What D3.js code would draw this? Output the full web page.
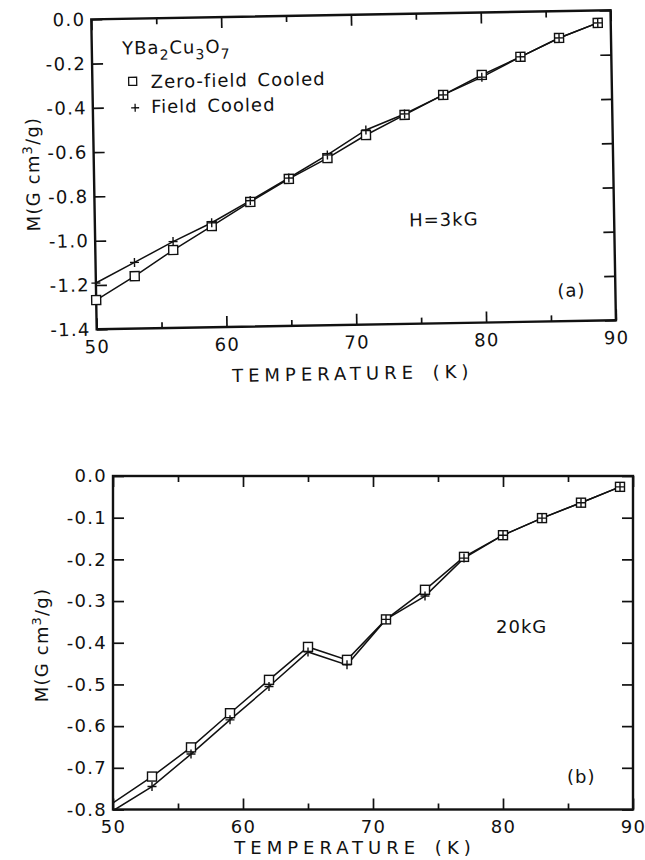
<!DOCTYPE html>
<html>
<head>
<meta charset="utf-8">
<script src="https://cdn.jsdelivr.net/npm/d3@7"></script>
<style>
body { margin: 0; background: #fff; }
text { font-family: "DejaVu Sans", sans-serif; fill: #111; }
.tick text { font-size: 18px; letter-spacing: 1.3px; }
.tick line { stroke: #111; stroke-width: 1.7; }
.lbl { font-size: 18px; letter-spacing: 1px; }
</style>
</head>
<body>
<div id="chart"></div>
<script>
// measurement temperatures (K)
let temps = [50, 53, 56, 59, 62, 65, 68, 71, 74, 77, 80, 83, 86, 89];

// (a) H = 3 kG, M in G cm3/g
let zfcA = [-1.268, -1.163, -1.048, -0.943, -0.837, -0.736, -0.645, -0.544, -0.456, -0.369, -0.282, -0.203, -0.121, -0.056];
let fcA  = [-1.191, -1.101, -1.010, -0.928, -0.831, -0.732, -0.631, -0.521, -0.452, -0.369, -0.292, -0.203, -0.121, -0.056];

// (b) 20 kG
let zfcB = [-0.784, -0.721, -0.651, -0.569, -0.489, -0.410, -0.441, -0.344, -0.273, -0.194, -0.142, -0.101, -0.064, -0.026];
let fcB  = [-0.803, -0.745, -0.667, -0.585, -0.505, -0.422, -0.453, -0.344, -0.288, -0.197, -0.142, -0.101, -0.064, -0.026];

let xMajor = [50, 60, 70, 80, 90];
let xMinor = [55, 65, 75, 85];
let yTicksA = [0, -0.2, -0.4, -0.6, -0.8, -1.0, -1.2, -1.4];
let yLabelsA = ["0.0", "-0.2", "-0.4", "-0.6", "-0.8", "-1.0", "-1.2", "-1.4"];
let yTicksB = [0, -0.1, -0.2, -0.3, -0.4, -0.5, -0.6, -0.7, -0.8];
let yLabelsB = ["0.0", "-0.1", "-0.2", "-0.3", "-0.4", "-0.5", "-0.6", "-0.7", "-0.8"];

let svg = d3.select("#chart").append("svg")
    .attr("width", 645)
    .attr("height", 860);

function drawPanel(g, cfg) {
    let x = d3.scaleLinear().domain([50, 90]).range([cfg.left, cfg.right]);
    let y = d3.scaleLinear().domain([cfg.yTicks[cfg.yTicks.length - 1], 0]).range([cfg.bottom, cfg.top]);

    g.append("clipPath").attr("id", "clip-" + cfg.name)
        .append("rect")
        .attr("x", cfg.left).attr("y", cfg.top)
        .attr("width", cfg.right - cfg.left).attr("height", cfg.bottom - cfg.top);

    // axes, ticks pointing inward
    g.append("g").attr("transform", "translate(0," + cfg.bottom + ")")
        .call(d3.axisBottom(x).tickValues(xMajor).tickSize(-11).tickSizeOuter(0).tickPadding(11).tickFormat(d3.format("d")));
    g.append("g").attr("transform", "translate(0," + cfg.bottom + ")")
        .call(d3.axisBottom(x).tickValues(xMinor).tickSize(-6).tickSizeOuter(0).tickFormat(""));
    g.append("g").attr("transform", "translate(0," + cfg.top + ")")
        .call(d3.axisTop(x).tickValues(xMajor).tickSize(-11).tickSizeOuter(0).tickFormat(""));
    g.append("g").attr("transform", "translate(0," + cfg.top + ")")
        .call(d3.axisTop(x).tickValues(xMinor).tickSize(-6).tickSizeOuter(0).tickFormat(""));
    g.append("g").attr("transform", "translate(" + cfg.left + ",0)")
        .call(d3.axisLeft(y).tickValues(cfg.yTicks).tickSize(-11).tickSizeOuter(0).tickPadding(6)
            .tickFormat((d, i) => cfg.yLabels[i]));
    g.append("g").attr("transform", "translate(" + cfg.right + ",0)")
        .call(d3.axisRight(y).tickValues(cfg.yTicks).tickSize(-11).tickSizeOuter(0).tickFormat(""));
    g.selectAll(".domain").remove();

    g.append("rect")
        .attr("x", cfg.left).attr("y", cfg.top)
        .attr("width", cfg.right - cfg.left).attr("height", cfg.bottom - cfg.top)
        .attr("fill", "none").attr("stroke", "#111").attr("stroke-width", 2.4);

    let line = d3.line().x(d => x(d[0])).y(d => y(d[1]));
    let zfc = temps.map((t, i) => [t, cfg.zfc[i]]);
    let fc = temps.map((t, i) => [t, cfg.fc[i]]);

    let plot = g.append("g").attr("clip-path", "url(#clip-" + cfg.name + ")");
    [zfc, fc].forEach(s => {
        plot.append("path").datum(s)
            .attr("d", line)
            .attr("fill", "none")
            .attr("stroke", "#111")
            .attr("stroke-width", 1.5);
    });

    let zfcPts = cfg.markFirst ? zfc : zfc.slice(1);
    let fcPts = cfg.markFirst ? fc : fc.slice(1);

    g.selectAll(".sq-" + cfg.name)
        .data(zfcPts)
        .enter().append("rect")
        .attr("x", d => x(d[0]) - 4.5)
        .attr("y", d => y(d[1]) - 4.5)
        .attr("width", 9).attr("height", 9)
        .attr("fill", "#fff").attr("stroke", "#111").attr("stroke-width", 1.4);

    g.selectAll(".pl-" + cfg.name)
        .data(fcPts)
        .enter().append("path")
        .attr("d", d => {
            let cx = x(d[0]), cy = y(d[1]);
            return "M" + (cx - 4.5) + "," + cy + "H" + (cx + 4.5) + "M" + cx + "," + (cy - 4.5) + "V" + (cy + 4.5);
        })
        .attr("stroke", "#111").attr("stroke-width", 1.4);

    // axis titles
    g.append("text")
        .attr("x", cfg.titleX)
        .attr("y", cfg.bottom + cfg.titleGap)
        .attr("text-anchor", "middle")
        .attr("font-size", 18)
        .attr("letter-spacing", "5px")
        .attr("word-spacing", "4px")
        .text("TEMPERATURE (K)");

    let yl = g.append("text")
        .attr("transform", "translate(" + cfg.yLabelX + "," + cfg.yLabelY + ") rotate(-90)")
        .attr("text-anchor", "middle")
        .attr("font-size", 18)
        .attr("letter-spacing", "1.2px");
    yl.append("tspan").text("M(G cm");
    yl.append("tspan").attr("dy", -7).attr("font-size", 13).text("3");
    yl.append("tspan").attr("dy", 7).text("/g)");

    return {x: x, y: y};
}

// panel (a) is slightly rotated in the scan
let gA = svg.append("g").attr("transform", "rotate(-1, 96.7, 329.3)");
drawPanel(gA, {
    name: "a", left: 96.7, right: 616, top: 19.3, bottom: 329.3,
    yTicks: yTicksA, yLabels: yLabelsA, zfc: zfcA, fc: fcA,
    markFirst: true, titleGap: 55, titleX: 352, yLabelX: 42, yLabelY: 173
});

// legend and labels of (a)
let leg = gA.append("text").attr("class", "lbl").attr("x", 127).attr("y", 55);
leg.append("tspan").text("YBa");
leg.append("tspan").attr("dy", 6).attr("font-size", 14).text("2");
leg.append("tspan").attr("dy", -6).text("Cu");
leg.append("tspan").attr("dy", 6).attr("font-size", 14).text("3");
leg.append("tspan").attr("dy", -6).text("O");
leg.append("tspan").attr("dy", 6).attr("font-size", 14).text("7");

gA.append("rect")
    .attr("x", 133).attr("y", 78).attr("width", 8).attr("height", 8)
    .attr("fill", "#fff").attr("stroke", "#111").attr("stroke-width", 1.3);
gA.append("text").attr("class", "lbl").attr("x", 155).attr("y", 89)
    .attr("word-spacing", "3px").text("Zero-field Cooled");
gA.append("path")
    .attr("d", "M135,108.5H143M139,104.5V112.5")
    .attr("stroke", "#111").attr("stroke-width", 1.3);
gA.append("text").attr("class", "lbl").attr("x", 155).attr("y", 114)
    .attr("word-spacing", "3px").text("Field Cooled");
gA.append("text").attr("class", "lbl").attr("x", 411).attr("y", 232)
    .attr("letter-spacing", "2.5px").text("H=3kG");
gA.append("text").attr("class", "lbl").attr("x", 558).attr("y", 305)
    .text("(a)");

// panel (b)
let gB = svg.append("g");
drawPanel(gB, {
    name: "b", left: 113, right: 633, top: 476, bottom: 809.5,
    yTicks: yTicksB, yLabels: yLabelsB, zfc: zfcB, fc: fcB,
    markFirst: false, titleGap: 44, titleX: 355, yLabelX: 48, yLabelY: 645
});
gB.append("text").attr("class", "lbl").attr("x", 496).attr("y", 633)
    .text("20kG");
gB.append("text").attr("class", "lbl").attr("x", 567).attr("y", 783)
    .text("(b)");
</script>
</body>
</html>
